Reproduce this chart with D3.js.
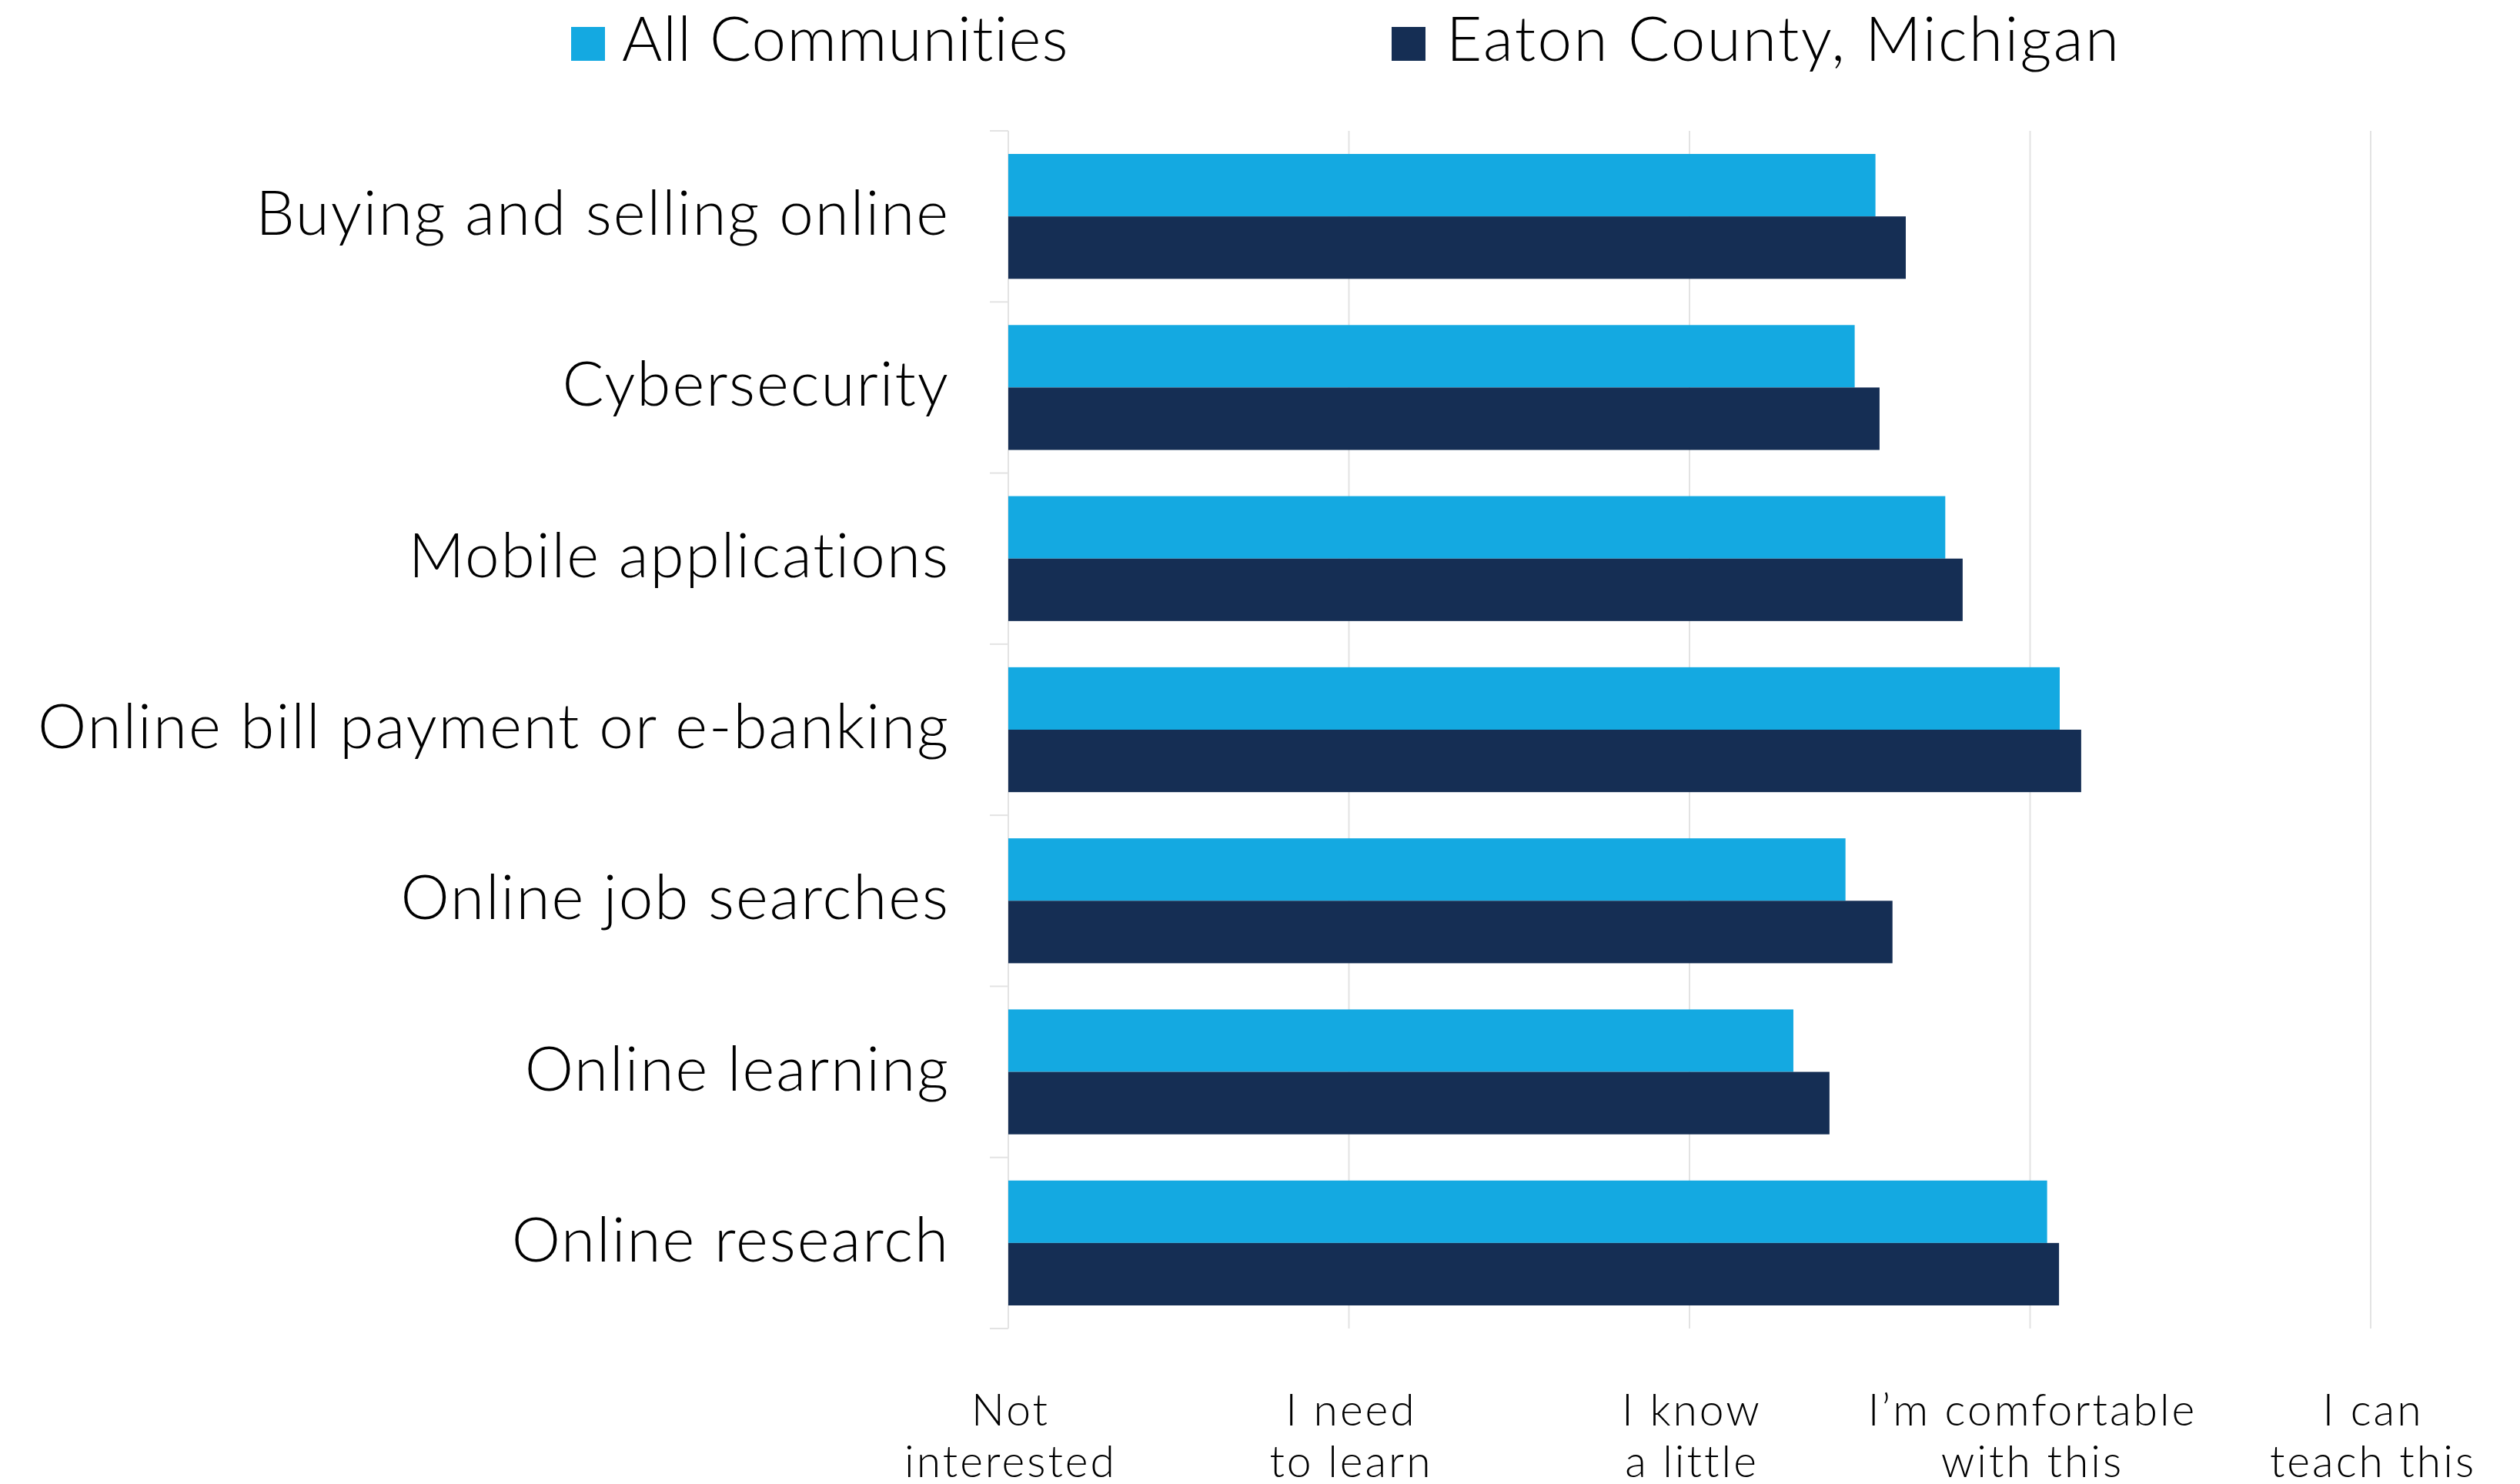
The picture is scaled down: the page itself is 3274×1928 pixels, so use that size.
<!DOCTYPE html>
<html>
<head>
<meta charset="utf-8">
<script src="https://cdn.jsdelivr.net/npm/d3@7"></script>
<style>
  html, body { margin: 0; padding: 0; background: #ffffff; }
  svg { display: block; }
  text { font-family: "Lato", "Open Sans", sans-serif; font-weight: 300; fill: #000; }
</style>
</head>
<body>
<script>
const categories = [
  "Buying and selling online",
  "Cybersecurity",
  "Mobile applications",
  "Online bill payment or e-banking",
  "Online job searches",
  "Online learning",
  "Online research"
];
const seriesNames = ["All Communities", "Eaton County, Michigan"];
const allCommunities = [3.546, 3.485, 3.751, 4.087, 3.458, 3.305, 4.050];
const eatonCounty    = [3.635, 3.558, 3.802, 4.150, 3.596, 3.411, 4.085];
const tickValues = [1, 2, 3, 4, 5];
const tickLabels = [
  ["Not", "interested"],
  ["I need", "to learn"],
  ["I know", "a little"],
  ["I\u2019m comfortable", "with this"],
  ["I can", "teach this"]
];
const colors = ["#14A9E1", "#152E54"];

const W = 3274, H = 1928;
const svg = d3.select("body").append("svg").attr("width", W).attr("height", H);

const x = d3.scaleLinear().domain([1, 5]).range([1310, 3080]);
const y = d3.scaleBand().domain(categories).range([170, 1726])
  .paddingInner(0.27).paddingOuter(0.135);
const ySub = d3.scaleBand().domain([0, 1]).range([0, y.bandwidth()]);

// gridlines
svg.append("g").selectAll("line").data(tickValues).join("line")
  .attr("x1", d => x(d)).attr("x2", d => x(d))
  .attr("y1", 170).attr("y2", 1726)
  .attr("stroke", "#e3e3e3").attr("stroke-width", 2);

// y axis ticks at band boundaries
const step = y.step();
const boundaries = d3.range(categories.length + 1).map(i => 170 + i * step);
svg.append("g").selectAll("line").data(boundaries).join("line")
  .attr("x1", 1286).attr("x2", 1310)
  .attr("y1", d => d).attr("y2", d => d)
  .attr("stroke", "#e3e3e3").attr("stroke-width", 2);

// bars
const rows = categories.map((c, i) => ({ c, v: [allCommunities[i], eatonCounty[i]] }));
const g = svg.append("g").selectAll("g").data(rows).join("g")
  .attr("transform", d => `translate(0,${y(d.c)})`);
g.selectAll("rect").data(d => d.v.map((v, k) => ({ v, k }))).join("rect")
  .attr("x", x(1))
  .attr("y", d => ySub(d.k))
  .attr("width", d => x(d.v) - x(1))
  .attr("height", ySub.bandwidth())
  .attr("fill", d => colors[d.k]);

// category labels
svg.append("g").selectAll("text").data(categories).join("text")
  .attr("x", 1234)
  .attr("y", d => y(d) + y.bandwidth() / 2)
  .attr("dy", "0.3em")
  .attr("text-anchor", "end")
  .attr("font-size", 80)
  .attr("letter-spacing", 2)
  .text(d => d);

// x tick labels
const tl = svg.append("g").selectAll("text").data(tickValues).join("text")
  .attr("text-anchor", "middle")
  .attr("font-size", 57)
  .attr("letter-spacing", 3);
tl.each(function(d, i) {
  const t = d3.select(this);
  tickLabels[i].forEach((line, j) => {
    t.append("tspan").attr("x", x(d) + 3).attr("y", 1852 + j * 67).text(line);
  });
});

// legend
const legendX = [742, 1808];
const lg = svg.append("g").selectAll("g").data(seriesNames).join("g")
  .attr("transform", (d, i) => `translate(${legendX[i]},0)`);
lg.append("rect").attr("x", 0).attr("y", 35).attr("width", 44).attr("height", 44)
  .attr("fill", (d, i) => colors[i]);
lg.append("text").attr("x", (d, i) => i === 0 ? 66 : 71).attr("y", 79)
  .attr("font-size", 80)
  .attr("letter-spacing", (d, i) => i === 0 ? 1.2 : 2.4)
  .text(d => d);
</script>
</body>
</html>
